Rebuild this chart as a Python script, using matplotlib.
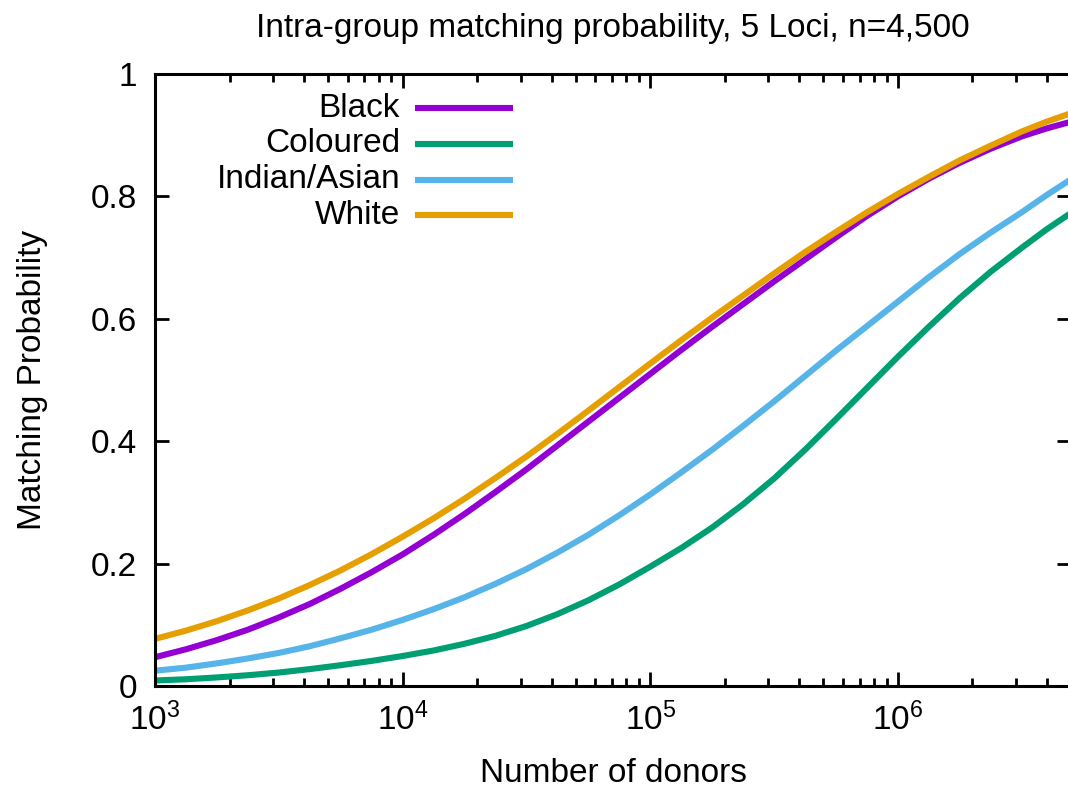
import numpy as np
import matplotlib
matplotlib.use("Agg")
import matplotlib.pyplot as plt
from matplotlib.lines import Line2D
from matplotlib.ticker import LogLocator, FuncFormatter

plt.rcParams['font.family'] = ['Liberation Sans', 'DejaVu Sans']
plt.rcParams['mathtext.fontset'] = 'custom'
plt.rcParams['mathtext.rm'] = 'Liberation Sans'

# donors (log10) and matching probability
log_donors = [3.0, 3.125, 3.25, 3.375, 3.5, 3.625, 3.75, 3.875, 4.0, 4.125, 4.25, 4.375,
              4.5, 4.625, 4.75, 4.875, 5.0, 5.125, 5.25, 5.375, 5.5, 5.625, 5.75, 5.875,
              6.0, 6.125, 6.25, 6.375, 6.5, 6.6, 6.699]
black = [0.047, 0.060, 0.075, 0.092, 0.112, 0.134, 0.159, 0.186, 0.215, 0.247, 0.281, 0.317,
         0.354, 0.393, 0.432, 0.471, 0.510, 0.549, 0.587, 0.624, 0.661, 0.697, 0.733, 0.768,
         0.800, 0.829, 0.855, 0.878, 0.898, 0.911, 0.922]
coloured = [0.009, 0.011, 0.014, 0.0176, 0.022, 0.0276, 0.034, 0.041, 0.049, 0.058, 0.069, 0.082,
            0.098, 0.1174, 0.140, 0.166, 0.195, 0.2254, 0.259, 0.297, 0.339, 0.386, 0.436, 0.487,
            0.538, 0.587, 0.634, 0.677, 0.716, 0.746, 0.773]
indian_asian = [0.025, 0.030, 0.037, 0.045, 0.054, 0.065, 0.078, 0.092, 0.108, 0.1255, 0.145, 0.167,
                0.191, 0.218, 0.247, 0.279, 0.313, 0.349, 0.386, 0.425, 0.465, 0.5065, 0.548, 0.588,
                0.628, 0.668, 0.706, 0.741, 0.774, 0.802, 0.828]
white = [0.077, 0.0905, 0.106, 0.1235, 0.143, 0.165, 0.189, 0.2155, 0.244, 0.274, 0.306, 0.340,
         0.375, 0.412, 0.450, 0.4885, 0.527, 0.565, 0.602, 0.638, 0.674, 0.709, 0.742, 0.774,
         0.804, 0.832, 0.859, 0.883, 0.906, 0.922, 0.936]

labels = ["Black", "Coloured", "Indian/Asian", "White"]
colors = ["#9400d3", "#009e73", "#56b4e9", "#e69f00"]

donors = 10 ** np.array(log_donors)
FS = 24
LW = 4.4

fig = plt.figure(figsize=(10.68, 7.9), dpi=100)
ax = fig.add_axes([155 / 1068, 104 / 790, 916 / 1068, 612 / 790])

for ys, c in zip([black, coloured, indian_asian, white], colors):
    ax.plot(donors, ys, color=c, lw=LW, solid_joinstyle='round')

ax.set_xscale('log')
ax.set_xlim(1e3, 5e6)
ax.set_ylim(0, 1)
ax.set_yticks([0, 0.2, 0.4, 0.6, 0.8, 1.0])
ax.yaxis.set_major_formatter(FuncFormatter(lambda v, p: '%g' % v))
ax.xaxis.set_major_locator(LogLocator(base=10, numticks=10))
ax.xaxis.set_minor_locator(LogLocator(base=10, subs=np.arange(2, 10), numticks=20))

for s in ax.spines.values():
    s.set_linewidth(2.2)

ax.tick_params(which='both', direction='in', top=True, right=True, width=2.0, labelsize=FS)
ax.tick_params(which='major', length=10)
ax.tick_params(which='minor', length=5.5)
ax.tick_params(axis='x', pad=12)
ax.tick_params(axis='y', pad=13)

ax.set_title("Intra-group matching probability, 5 Loci, n=4,500", fontsize=FS, pad=27)
ax.set_xlabel("Number of donors", fontsize=FS)
ax.set_ylabel("Matching Probability", fontsize=FS)
ax.xaxis.set_label_coords(0.5, -0.118)
ax.yaxis.set_label_coords(-0.117, 0.5)

# gnuplot-style key: label right-aligned, sample line to its right
key_text_x = 0.2675
key_line_x = (0.2871, 0.3876)
key_y0, key_dy = 0.944, 0.0583
for i, (lab, c) in enumerate(zip(labels, colors)):
    yk = key_y0 - i * key_dy
    ax.text(key_text_x, yk, lab, transform=ax.transAxes, ha='right', va='center', fontsize=FS)
    ax.add_line(Line2D(key_line_x, (yk, yk), transform=ax.transAxes, color=c, lw=LW))

fig.savefig("out.png", dpi=100)
